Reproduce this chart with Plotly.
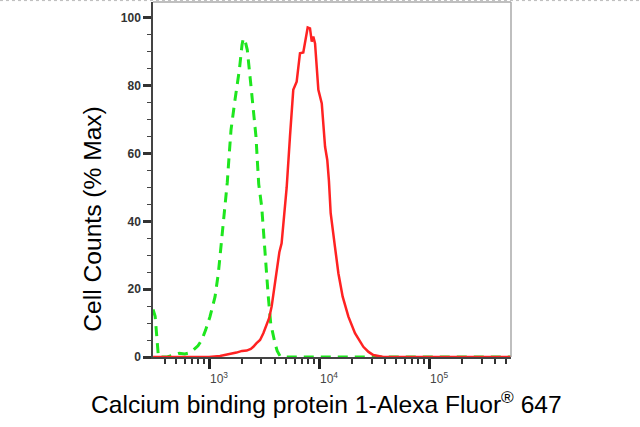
import plotly.graph_objects as go

# flow histogram, isotype control (green dashed) vs stained sample (red)
ctrl_x = [310, 324, 347, 417, 479, 537, 603, 661, 724, 794, 859, 933, 1021, 1135, 1216,
          1303, 1396, 1466, 1521, 1585, 1722, 1888, 1995, 2051, 2138, 2228, 2360, 2495,
          2673, 2748, 2831, 3013, 3162, 3296, 3459, 3639, 3802, 3981, 4169, 4416, 5012, 555900]
ctrl_y = [14, 12, 0, 0, 0.6, 1.1, 0.9, 1.2, 2.1, 3.3, 5.0, 8.0, 11.9, 17.8, 24.7,
          34.5, 44.3, 51.5, 59, 67, 75.8, 84.7, 92, 94.0, 93, 90.6, 82.7, 74.8,
          65, 58.1, 51, 44.3, 34.5, 26.6, 17.8, 9.9, 6.5, 4.0, 1.8, 0.3, 0, 0]

sample_x = [310, 1000, 1259, 1514, 1778, 1995, 2203, 2399, 2529, 2692, 2911, 3119, 3311,
            3524, 3715, 3908, 4188, 4365, 4571, 4853, 5082, 5445, 5834, 6266, 6714, 7194,
            7889, 8279, 8590, 8872, 9204, 9863, 10593, 11350, 11885, 12303, 12764, 13964,
            14997, 16406, 18493, 21232, 25293, 28184, 31189, 38459, 555900]
sample_y = [0, 0, 0.3, 0.8, 1.3, 1.8, 1.9, 2.4, 3.0, 4.0, 5.0, 7.0, 9.0,
            11.5, 15, 19.8, 27.6, 31, 33.5, 42.4, 50, 65, 78.8, 81.2, 89.6, 89.8,
            97.2, 96.9, 93.0, 94.5, 92.5, 78.8, 74.8, 62, 58.1, 52, 42.4, 32.5,
            24.7, 17.8, 11.9, 7.0, 3.0, 1.5, 0.6, 0, 0]

x_major = [1e3, 1e4, 1e5]
x_major_text = ['10<sup>3</sup>', '10<sup>4</sup>', '10<sup>5</sup>']
x_minor = [m * 10 ** e for e in (2, 3, 4, 5) for m in range(2, 10)]

font = 'Liberation Sans, Arial, sans-serif'

fig = go.Figure()
fig.add_trace(go.Scatter(x=ctrl_x, y=ctrl_y, mode='lines',
                         line=dict(color='#1ee61e', width=3, dash='10px,7px')))
fig.add_trace(go.Scatter(x=sample_x, y=sample_y, mode='lines',
                         line=dict(color='#ff2222', width=2.5)))

fig.update_layout(
    width=640, height=427,
    margin=dict(l=153, r=129, t=2, b=70),
    plot_bgcolor='white', paper_bgcolor='white',
    showlegend=False,
    font=dict(family=font, color='#333'),
    xaxis=dict(type='log', range=[2.491, 5.745],
               tickvals=x_major, ticktext=x_major_text,
               ticks='outside', ticklen=10, tickwidth=2.5, tickcolor='#222',
               tickfont=dict(size=12, color='#444'), ticklabelshift=10,
               minor=dict(tickvals=x_minor, ticks='outside', ticklen=5, tickwidth=1.5, tickcolor='#333'),
               showline=True, linecolor='#444', linewidth=1.5,
               showgrid=False, zeroline=False, layer='below traces'),
    yaxis=dict(range=[0, 104.7], tick0=0, dtick=20,
               ticks='outside', ticklen=8, tickwidth=2.5, tickcolor='#333',
               tickfont=dict(size=12, color='#333', weight='bold'),
               minor=dict(dtick=5, ticks='outside', ticklen=4, tickwidth=1.2, tickcolor='#444'),
               showline=True, linecolor='#444', linewidth=1.5,
               showgrid=False, zeroline=False, layer='below traces'),
    shapes=[
        dict(type='line', xref='paper', yref='paper', x0=0, x1=1, y0=1, y1=1,
             line=dict(color='#aaa', width=1.5)),
        dict(type='line', xref='paper', yref='paper', x0=1, x1=1, y0=0, y1=1,
             line=dict(color='#aaa', width=1.5)),
        dict(type='line', xref='paper', yref='paper', x0=-0.4274, x1=1.3603, y0=1.004, y1=1.004,
             line=dict(color='#bbb', width=1, dash='dot')),
    ],
    annotations=[
        dict(text='Cell Counts (% Max)', textangle=-90, xref='paper', yref='paper',
             x=-0.17, y=0.39, xanchor='center', yanchor='middle', showarrow=False,
             font=dict(size=24.6, color='black', family=font)),
        dict(text='Calcium binding protein 1-Alexa Fluor<sup>®</sup> 647', xref='paper', yref='paper',
             x=0.4846, y=-0.127, xanchor='center', yanchor='middle', showarrow=False,
             font=dict(size=24.6, color='black', family=font)),
    ],
)

# page body has a default 8px margin; drop it so the figure sits at the corner
fig.write_html('out.html', config={'displayModeBar': False},
               post_script="document.body.style.margin='0';")
